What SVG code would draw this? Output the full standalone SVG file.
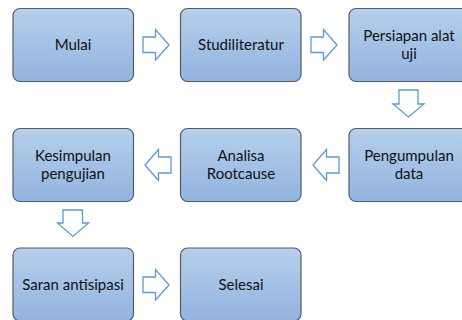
<svg xmlns="http://www.w3.org/2000/svg" width="462" height="320" viewBox="0 0 462 320">
<defs>
<linearGradient id="g" x1="0" y1="0" x2="0" y2="1">
<stop offset="0" stop-color="#b5cfec"/>
<stop offset="1" stop-color="#93b4df"/>
</linearGradient>
</defs>
<style>
.box{fill:url(#g);stroke:#555b63;stroke-width:1.2}
.t{font-family:Lato,"Liberation Sans",sans-serif;font-size:15px;fill:#111;text-anchor:middle}
.arr{fill:#fff;stroke:#5b9bd5;stroke-width:1.3;stroke-linejoin:miter}
</style>
<rect width="462" height="320" fill="#fff"/>
<g id="n1"><rect class="box" x="13" y="8.5" width="120.5" height="73" rx="7"/><text class="t" x="73" y="50">Mulai</text></g>
<g id="n2"><rect class="box" x="180.5" y="8.5" width="120.5" height="73" rx="7"/><text class="t" x="241" y="50">Studiliteratur</text></g>
<g id="n3"><rect class="box" x="349" y="8.5" width="120.5" height="73" rx="7"/><text class="t" x="409" y="40.5">Persiapan alat</text><text class="t" x="409" y="58.5">uji</text></g>
<g id="n4"><rect class="box" x="349" y="128.5" width="120.5" height="73" rx="7"/><text class="t" x="409" y="160.5">Pengumpulan</text><text class="t" x="409" y="178.5">data</text></g>
<g id="n5"><rect class="box" x="180.5" y="128.5" width="120.5" height="73" rx="7"/><text class="t" x="241" y="160.5">Analisa</text><text class="t" x="241" y="178.5">Rootcause</text></g>
<g id="n6"><rect class="box" x="13" y="128.5" width="120.5" height="73" rx="7"/><text class="t" x="73" y="160.5">Kesimpulan</text><text class="t" x="73" y="178.5">pengujian</text></g>
<g id="n7"><rect class="box" x="13" y="248" width="120.5" height="73" rx="7"/><text class="t" x="73" y="290">Saran antisipasi</text></g>
<g id="n8"><rect class="box" x="180.5" y="248" width="120.5" height="73" rx="7"/><text class="t" x="241" y="290">Selesai</text></g>
<g id="connectors">
<path class="arr" d="M143,37 H155.5 V29.5 L169,45 L155.5,60 V52.5 H143 Z"/>
<path class="arr" d="M311,37 H323.5 V29.5 L337,45 L323.5,60 V52.5 H311 Z"/>
<path class="arr" d="M399,90 H418 V104 H424 L408.5,117 L393,104 H399 Z"/>
<path class="arr" d="M339,157 H326.5 V149.5 L313,165 L326.5,180.5 V173 H339 Z"/>
<path class="arr" d="M171,157 H158.5 V149.5 L145,165 L158.5,180.5 V173 H171 Z"/>
<path class="arr" d="M63,210 H82.5 V223 H88.5 L73,236.5 L57.5,223 H63 Z"/>
<path class="arr" d="M143,277 H155.5 V269.5 L169,285 L155.5,300 V292.5 H143 Z"/>
</g>
</svg>
